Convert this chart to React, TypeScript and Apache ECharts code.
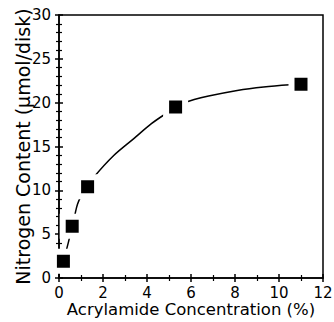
import React, { useEffect, useRef } from "react";
import * as echarts from "echarts";

// Measured data points
const concentration = [0.2, 0.6, 1.3, 5.3, 11.0];
const nitrogen = [1.9, 5.9, 10.4, 19.5, 22.1];
// Fitted curve
const curveX = [0.2, 0.4, 0.6, 0.72, 0.84, 1.0, 1.3, 1.6, 2.5, 3.4, 4.2, 4.8, 5.3, 5.7, 6.8, 8.1, 9.3, 10.5, 11.0];
const curveY = [1.9, 3.8, 5.9, 7.2, 8.4, 9.3, 10.4, 11.55, 14.0, 15.9, 17.6, 18.65, 19.4, 20.0, 20.75, 21.4, 21.8, 22.05, 22.1];
const xTicks = [0, 2, 4, 6, 8, 10, 12];
const yTicks = [0, 5, 10, 15, 20, 25, 30];

const FONT = "DejaVu Sans";

export default function App() {
  const ref = useRef<HTMLDivElement>(null);
  useEffect(() => {
    if (!ref.current) return;
    const chart = echarts.init(ref.current, null, { renderer: "svg" });
    const pts = concentration.map((x, i) => [x, nitrogen[i]]);
    const curve = curveX.map((x, i) => [x, curveY[i]]);
    const axisBase = {
      axisLine: { show: true, onZero: false, lineStyle: { color: "#000", width: 1.5 } },
      splitLine: { show: false },
    };
    const xMin = xTicks[0], xMax = xTicks[xTicks.length - 1];
    const yMin = yTicks[0], yMax = yTicks[yTicks.length - 1];
    const tickStyle = { color: "#000", width: 1.5 };
    const minorStyle = { color: "#000", width: 1.2 };
    chart.setOption({
      animation: false,
      grid: {
        left: 59, right: 11, top: 15, bottom: 44,
        containLabel: false, outerBoundsMode: "none",
        show: true, borderColor: "#000", borderWidth: 1.5,
      },
      xAxis: [
        {
          ...axisBase,
          type: "value", min: xMin, max: xMax, interval: 2, position: "bottom",
          axisTick: { show: true, inside: false, length: 4, lineStyle: tickStyle },
          minorTick: { show: true, splitNumber: 2, length: 3, lineStyle: minorStyle },
          axisLabel: { color: "#000", fontFamily: FONT, fontSize: 15, margin: 7 },
          name: "Acrylamide Concentration (%)",
          nameLocation: "middle", nameGap: 23, nameMoveOverlap: false,
          nameTextStyle: { color: "#000", fontFamily: FONT, fontSize: 16.5 },
        },
        {
          ...axisBase,
          type: "value", min: xMin, max: xMax, interval: 2, position: "bottom",
          axisLine: { show: false, onZero: false },
          axisTick: { show: true, inside: true, length: 4, lineStyle: tickStyle },
          minorTick: { show: true, splitNumber: 2, length: 3, lineStyle: minorStyle },
          axisLabel: { show: false },
        },
      ],
      yAxis: [
        {
          ...axisBase,
          type: "value", min: yMin, max: yMax, interval: 5, position: "left",
          axisTick: { show: true, inside: false, length: 4, lineStyle: tickStyle },
          minorTick: { show: true, splitNumber: 5, length: 3, lineStyle: minorStyle },
          axisLabel: { color: "#000", fontFamily: FONT, fontSize: 15, margin: 8 },
          name: "Nitrogen Content (μmol/disk)",
          nameLocation: "middle", nameGap: 27, nameMoveOverlap: false,
          nameTextStyle: { color: "#000", fontFamily: FONT, fontSize: 19 },
        },
        {
          ...axisBase,
          type: "value", min: yMin, max: yMax, interval: 5, position: "left",
          axisLine: { show: false, onZero: false },
          axisTick: { show: true, inside: true, length: 4, lineStyle: tickStyle },
          minorTick: { show: true, splitNumber: 5, length: 3, lineStyle: minorStyle },
          axisLabel: { show: false },
        },
      ],
      series: [
        {
          type: "line",
          xAxisIndex: 0,
          yAxisIndex: 0,
          data: curve,
          smooth: 0.3,
          showSymbol: false,
          symbol: "none",
          lineStyle: { color: "#000", width: 1.5 },
          z: 2,
        },
        {
          type: "scatter",
          xAxisIndex: 0,
          yAxisIndex: 0,
          data: pts,
          symbol: "rect",
          symbolSize: 19,
          itemStyle: { color: "#000", borderColor: "#fff", borderWidth: 6, opacity: 1 },
          emphasis: { disabled: true },
          z: 3,
        },
      ],
    });
    return () => chart.dispose();
  }, []);
  return <div ref={ref} style={{ position: "fixed", left: 0, top: 0, width: 334, height: 322, background: "#fff" }} />;
}
